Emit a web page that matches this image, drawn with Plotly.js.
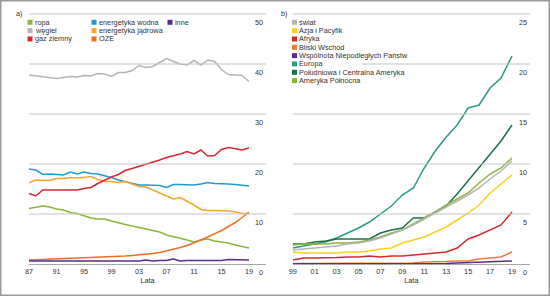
<!DOCTYPE html>
<html>
<head>
<meta charset="utf-8">
<script src="https://cdn.plot.ly/plotly-3.0.1.min.js"></script>
<style>html,body{margin:0;padding:0;background:#fff;}#chart{width:550px;height:296px;}</style>
</head>
<body>
<div id="chart"></div>
<script>
// ---------- Data: panel a) ----------
const yearsA = [1987,1988,1989,1990,1991,1992,1993,1994,1995,1996,1997,1998,1999,2000,2001,2002,2003,2004,2005,2006,2007,2008,2009,2010,2011,2012,2013,2014,2015,2016,2017,2018,2019];
const tickValsA = [1987,1991,1995,1999,2003,2007,2011,2015,2019];
const tickTextA = ['87','91','95','99','03','07','11','15','19'];
const gridA = [10,20,30,40,50];

const ropa    = [11.1,11.3,11.6,11.4,11.0,10.8,10.3,10.1,9.6,9.2,9.0,9.0,8.6,8.2,7.9,7.6,7.3,7.0,6.7,6.4,5.8,5.5,5.2,4.8,4.4,4.8,5.0,4.6,4.4,4.2,3.8,3.5,3.2];
const wegiel  = [37.8,37.6,37.4,37.2,37.1,37.3,37.5,37.4,37.7,37.6,38.1,38.0,37.5,38.3,38.3,38.7,39.7,39.3,39.5,40.3,41.1,40.5,40.0,39.8,40.7,39.8,40.8,40.5,38.9,37.9,37.8,37.7,36.5];
const gaz     = [14.1,13.6,14.8,14.8,14.7,14.7,14.7,14.8,15.1,15.3,16.1,16.8,17.4,17.9,18.7,19.1,19.5,19.9,20.3,20.8,21.3,21.6,22.0,22.5,22.0,22.8,21.6,21.7,22.9,23.3,23.1,22.8,23.2];
const wodna   = [19.0,18.8,17.9,18.0,17.9,17.8,18.4,18.0,18.4,18.1,18.0,17.7,17.3,16.8,16.5,16.1,15.8,15.8,15.8,15.7,15.3,15.9,15.9,15.8,15.8,16.0,16.3,16.1,16.1,16.0,15.9,15.7,15.6];
const jadrowa = [16.3,16.8,16.7,16.7,17.1,17.1,17.3,17.2,17.3,17.5,16.9,16.5,16.5,16.3,16.5,16.0,15.5,15.4,14.8,14.3,13.6,13.0,13.3,12.6,11.8,10.9,10.7,10.7,10.7,10.6,10.4,10.1,10.1];
const oze     = [0.8,0.85,0.9,0.95,1.0,1.05,1.1,1.15,1.2,1.25,1.3,1.35,1.4,1.5,1.6,1.7,1.8,1.9,2.1,2.3,2.6,2.9,3.3,3.7,4.2,4.8,5.4,6.0,6.7,7.5,8.3,9.3,10.4];
const inne    = [0.6,0.6,0.6,0.6,0.6,0.6,0.6,0.6,0.6,0.6,0.7,0.7,0.7,0.7,0.7,0.7,0.6,0.8,0.6,0.7,0.7,1.0,0.6,0.7,0.7,0.7,0.7,0.7,0.7,0.9,0.9,0.9,0.8];

const namesA  = ['ropa','węgiel','gaz ziemny','energetyka wodna','energetyka jądrowa','OZE','inne'];
const colorsA = ['#8cb43c','#b4b4b4','#d7282d','#1e9bd7','#f5a52a','#eb6e28','#5a2d87'];
const seriesA = [ropa, wegiel, gaz, wodna, jadrowa, oze, inne];
const drawOrderA = [1,3,4,2,0,5,6];

// ---------- Data: panel b) ----------
const yearsB = [1999,2000,2001,2002,2003,2004,2005,2006,2007,2008,2009,2010,2011,2012,2013,2014,2015,2016,2017,2018,2019];
const tickValsB = [1999,2001,2003,2005,2007,2009,2011,2013,2015,2017,2019];
const tickTextB = ['99','01','03','05','07','09','11','13','15','17','19'];
const gridB = [5,10,15,20,25];

const swiat     = [1.4,1.5,1.6,1.7,1.8,2.0,2.1,2.3,2.6,3.0,3.4,3.9,4.5,5.1,5.7,6.3,6.9,7.6,8.5,9.3,10.3];
const azja      = [1.2,1.1,1.1,1.1,1.1,1.2,1.2,1.3,1.5,1.6,2.1,2.4,2.7,3.2,3.7,4.4,5.1,5.9,7.1,8.0,8.9];
const afryka    = [0.4,0.6,0.6,0.6,0.65,0.7,0.7,0.8,0.7,0.8,0.8,0.9,1.0,1.1,1.2,1.6,2.5,2.9,3.4,3.9,5.2];
const bliski    = [0.05,0.05,0.05,0.05,0.05,0.05,0.05,0.05,0.05,0.05,0.05,0.1,0.2,0.2,0.25,0.3,0.3,0.5,0.6,0.7,1.2];
const wnp       = [0.02,0.02,0.02,0.02,0.02,0.02,0.02,0.02,0.02,0.02,0.02,0.02,0.03,0.04,0.05,0.1,0.15,0.2,0.25,0.3,0.3];
const europa    = [1.6,1.8,2.0,2.2,2.6,3.1,3.6,4.2,5.0,5.8,6.9,7.6,9.6,11.3,12.7,13.9,15.6,15.9,17.6,18.6,20.8];
const pdAm      = [2.0,2.0,2.2,2.3,2.5,2.5,2.5,2.5,3.1,3.4,3.6,4.6,4.6,5.2,5.8,7.0,8.3,9.7,11.0,12.3,13.9];
const pnAm      = [1.9,2.0,2.0,2.0,2.1,2.1,2.2,2.4,2.7,3.1,3.4,4.0,4.6,5.2,5.9,6.5,7.1,8.1,9.0,9.6,10.6];

const namesB  = ['świat','Azja i Pacyfik','Afryka','Bliski Wschód','Wspólnota Niepodległych Państw','Europa','Południowa i Centralna Ameryka','Ameryka Północna'];
const colorsB = ['#b4b4b4','#f5d21e','#d7282d','#eb7d32','#5a2d87','#2d9b87','#1e6e4b','#8cb43c'];
const seriesB = [swiat, azja, afryka, bliski, wnp, europa, pdAm, pnAm];
const drawOrderB = [5,6,7,0,1,2,3,4];

// ---------- Layout geometry (pixels) ----------
const W = 550, H = 296;
const FONT = "'Liberation Sans', Arial, sans-serif";
const FS = 7.3;
const TXT = '#333333';
const GRID = '#c4c4c4';
const px = v => v / W;
const py = v => 1 - v / H;

const plotTop = 12, plotBot = 264;
const aLeft = 29, aRight = 266;
const bLeft = 292.7, bRight = 530;
const aPxPerYear = 6.875, bPxPerYear = 10.965;
const aPxPerUnit = 5, bPxPerUnit = 10;

const traces = [];
drawOrderA.forEach(i => {
  traces.push({x: yearsA, y: seriesA[i], type: 'scatter', mode: 'lines', name: namesA[i],
    line: {color: colorsA[i], width: 1.5}, xaxis: 'x', yaxis: 'y', hoverinfo: 'skip'});
});
drawOrderB.forEach(i => {
  traces.push({x: yearsB, y: seriesB[i], type: 'scatter', mode: 'lines', name: namesB[i],
    line: {color: colorsB[i], width: 1.5}, xaxis: 'x2', yaxis: 'y2', hoverinfo: 'skip'});
});

const yCommon = {
  domain: [1 - plotBot / H, 1 - plotTop / H],
  showgrid: false, zeroline: false, showline: false,
  side: 'right', ticks: '', ticklabelposition: 'inside', ticklabelshift: 8, ticklabeloverflow: 'allow',
  tickfont: {family: FONT, size: FS, color: TXT}, fixedrange: true
};
const xCommon = {
  showgrid: false, zeroline: false, showline: true, linecolor: '#a8a8a8', linewidth: 1,
  ticks: '', tickfont: {family: FONT, size: FS, color: TXT}, fixedrange: true,
  title: {text: 'Lata', font: {family: FONT, size: FS, color: TXT}, standoff: 2}
};

const annotations = [];
const shapes = [];

// horizontal gridlines: page-level lines at the heights of the value-axis ticks
gridA.forEach(v => {
  const yy = plotBot - v * aPxPerUnit;
  shapes.push({type: 'line', xref: 'paper', yref: 'paper', layer: 'above',
    x0: px(aLeft), x1: px(aRight), y0: py(yy), y1: py(yy), line: {color: GRID, width: 1}});
});
gridB.forEach(v => {
  const yy = plotBot - v * bPxPerUnit;
  shapes.push({type: 'line', xref: 'paper', yref: 'paper', layer: 'above',
    x0: px(bLeft), x1: px(bRight), y0: py(yy), y1: py(yy), line: {color: GRID, width: 1}});
});

// white box behind legend b) (covers part of the 20 gridline, as in the reference)
shapes.push({type: 'rect', xref: 'paper', yref: 'paper', layer: 'above',
  x0: px(291), x1: px(362), y0: py(86), y1: py(17), fillcolor: '#ffffff', line: {width: 0}});

// legend a): three columns
const colA = [[0,1,2],[3,4,5],[6]];
const colAx = [30, 94, 170];
const rowY0 = 22.3, rowStep = 8.33, sw = 5;
colA.forEach((col, c) => {
  col.forEach((i, r) => {
    const cy = rowY0 + r * rowStep;
    shapes.push({type: 'rect', xref: 'paper', yref: 'paper', layer: 'above',
      x0: px(colAx[c] - sw / 2), x1: px(colAx[c] + sw / 2), y0: py(cy + sw / 2), y1: py(cy - sw / 2),
      fillcolor: colorsA[i], line: {width: 0}});
    annotations.push({xref: 'paper', yref: 'paper', x: px(colAx[c] + 3.5), y: py(cy), xanchor: 'left', yanchor: 'middle',
      text: namesA[i], showarrow: false, font: {family: FONT, size: FS, color: TXT}, borderpad: 0});
  });
});
// legend b): one column
namesB.forEach((n, i) => {
  const cy = rowY0 + i * rowStep, cx = 294.5;
  shapes.push({type: 'rect', xref: 'paper', yref: 'paper', layer: 'above',
    x0: px(cx - sw / 2), x1: px(cx + sw / 2), y0: py(cy + sw / 2), y1: py(cy - sw / 2),
    fillcolor: colorsB[i], line: {width: 0}});
  annotations.push({xref: 'paper', yref: 'paper', x: px(cx + 3.5), y: py(cy), xanchor: 'left', yanchor: 'middle',
    text: n, showarrow: false, font: {family: FONT, size: FS, color: TXT}, borderpad: 0});
});
// panel labels
annotations.push({xref: 'paper', yref: 'paper', x: px(15), y: py(14), xanchor: 'left', yanchor: 'middle',
  text: 'a)', showarrow: false, font: {family: FONT, size: FS, color: TXT}, borderpad: 0});
annotations.push({xref: 'paper', yref: 'paper', x: px(280), y: py(14), xanchor: 'left', yanchor: 'middle',
  text: 'b)', showarrow: false, font: {family: FONT, size: FS, color: TXT}, borderpad: 0});

// outer frame
shapes.push({type: 'rect', xref: 'paper', yref: 'paper', layer: 'above',
  x0: px(0.75), x1: px(549.25), y0: py(295.25), y1: py(0.75), fillcolor: 'rgba(0,0,0,0)',
  line: {color: '#9a9a9a', width: 1.5}});

const layout = {
  width: W, height: H, margin: {l: 0, r: 0, t: 0, b: 0, pad: 0},
  paper_bgcolor: '#ffffff', plot_bgcolor: '#ffffff', showlegend: false,
  font: {family: FONT, size: FS, color: TXT},
  xaxis: Object.assign({}, xCommon, {domain: [px(aLeft), px(aRight)], anchor: 'y',
    range: [1987, 1987 + (aRight - aLeft) / aPxPerYear], tickvals: tickValsA, ticktext: tickTextA}),
  yaxis: Object.assign({}, yCommon, {anchor: 'x', range: [0, (plotBot - plotTop) / aPxPerUnit], tickvals: [0].concat(gridA)}),
  xaxis2: Object.assign({}, xCommon, {domain: [px(bLeft), px(bRight)], anchor: 'y2',
    range: [1999, 1999 + (bRight - bLeft) / bPxPerYear], tickvals: tickValsB, ticktext: tickTextB}),
  yaxis2: Object.assign({}, yCommon, {anchor: 'x2', range: [0, (plotBot - plotTop) / bPxPerUnit], tickvals: [0].concat(gridB)}),
  annotations: annotations, shapes: shapes
};

Plotly.newPlot('chart', traces, layout, {staticPlot: true, displayModeBar: false});
</script>
</body>
</html>
